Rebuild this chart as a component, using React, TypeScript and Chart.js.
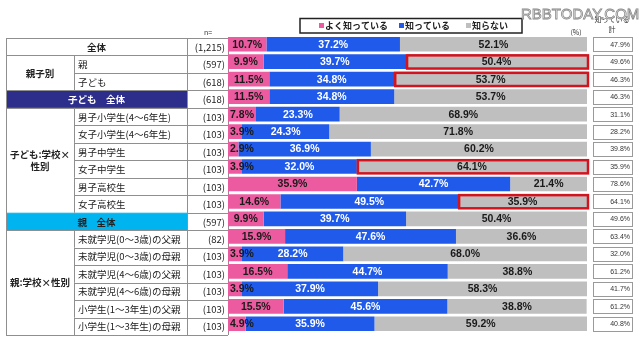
import React, { useEffect, useRef } from "react";
import { Chart, registerables } from "chart.js";

Chart.register(...registerables);

const rowLabels = [
  "全体",
  "親",
  "子ども",
  "子ども　全体",
  "男子小学生(4～6年生)",
  "女子小学生(4～6年生)",
  "男子中学生",
  "女子中学生",
  "男子高校生",
  "女子高校生",
  "親　全体",
  "未就学児(0～3歳)の父親",
  "未就学児(0～3歳)の母親",
  "未就学児(4～6歳)の父親",
  "未就学児(4～6歳)の母親",
  "小学生(1～3年生)の父親",
  "小学生(1～3年生)の母親",
];
const sampleSizes = [
  "(1,215)", "(597)", "(618)", "(618)", "(103)", "(103)", "(103)", "(103)", "(103)",
  "(103)", "(597)", "(82)", "(103)", "(103)", "(103)", "(103)", "(103)",
];
const wellKnown = [10.7, 9.9, 11.5, 11.5, 7.8, 3.9, 2.9, 3.9, 35.9, 14.6, 9.9, 15.9, 3.9, 16.5, 3.9, 15.5, 4.9];
const known = [37.2, 39.7, 34.8, 34.8, 23.3, 24.3, 36.9, 32.0, 42.7, 49.5, 39.7, 47.6, 28.2, 44.7, 37.9, 45.6, 35.9];
const unknown = [52.1, 50.4, 53.7, 53.7, 68.9, 71.8, 60.2, 64.1, 21.4, 35.9, 50.4, 36.6, 68.0, 38.8, 58.3, 38.8, 59.2];
const knownTotal = [47.9, 49.6, 46.3, 46.3, 31.1, 28.2, 39.8, 35.9, 78.6, 64.1, 49.6, 63.4, 32.0, 61.2, 41.7, 61.2, 40.8];
const seriesNames = ["よく知っている", "知っている", "知らない"];
const highlightedRows = [1, 2, 7, 9];
const wideRows = [0, 3, 10];
const groups = [
  { lines: ["親子別"], from: 1, to: 2 },
  { lines: ["子ども:学校×", "性別"], from: 4, to: 9 },
  { lines: ["親:学校×性別"], from: 11, to: 16 },
];
const totalHeader = ["知っている", "計"];

const PINK = "#EC5AA0";
const BLUE = "#1F5AEA";
const GRAY = "#BFBFBF";
const RED = "#D3141E";
const wideStyles: Record<number, { fill: string; color: string; bold: boolean }> = {
  0: { fill: "#ffffff", color: "#222", bold: true },
  3: { fill: "#2D2D8C", color: "#ffffff", bold: true },
  10: { fill: "#00B5EF", color: "#222", bold: true },
};
const CJK = '"Noto Sans CJK JP", sans-serif';

const decorPlugin = {
  id: "decor",
  beforeDatasetsDraw(chart: any) {
    const ctx = chart.ctx;
    const y = chart.scales.y;
    const pitch = y.getPixelForValue(1) - y.getPixelForValue(0);
    const off = 2.5;
    const top = (i: number) => y.getPixelForValue(i) - pitch / 2 + off;
    const X0 = 6, X1 = 74, X2 = 187, X3 = 228;
    const n = rowLabels.length;
    const T = top(0), B = top(n);
    ctx.save();
    ctx.fillStyle = "#fff";
    ctx.fillRect(X0, T, X3 - X0, B - T);
    wideRows.forEach((r) => {
      ctx.fillStyle = wideStyles[r].fill;
      ctx.fillRect(X0, top(r), X2 - X0, pitch);
    });
    ctx.strokeStyle = "#8f8f8f";
    ctx.lineWidth = 1;
    ctx.beginPath();
    const inGroup = (k: number) => groups.some((g) => k > g.from && k <= g.to);
    for (let k = 0; k <= n; k++) {
      const yy = Math.round(top(k)) + 0.5;
      ctx.moveTo(inGroup(k) ? X1 : X0, yy);
      ctx.lineTo(X3, yy);
    }
    const vline = (x: number, a: number, b: number) => {
      ctx.moveTo(x + 0.5, a);
      ctx.lineTo(x + 0.5, b);
    };
    vline(X0, T, B);
    vline(X2, T, B);
    vline(X3, T, B);
    for (let r = 0; r < n; r++) {
      if (!wideRows.includes(r)) vline(X1, top(r), top(r + 1));
    }
    ctx.stroke();

    ctx.textBaseline = "middle";
    for (let r = 0; r < n; r++) {
      const cy = top(r) + pitch / 2 + 0.5;
      if (wideRows.includes(r)) {
        const s = wideStyles[r];
        ctx.fillStyle = s.color;
        ctx.font = `${s.bold ? "bold " : ""}9.5px ${CJK}`;
        ctx.textAlign = "center";
        ctx.fillText(rowLabels[r], (X0 + X2) / 2, cy);
      } else {
        ctx.fillStyle = "#222";
        ctx.font = `9.5px ${CJK}`;
        ctx.textAlign = "left";
        ctx.fillText(rowLabels[r], X1 + 4, cy);
      }
      ctx.fillStyle = "#222";
      ctx.font = `9.5px ${CJK}`;
      ctx.textAlign = "right";
      ctx.fillText(sampleSizes[r], X3 - 3, cy);
    }
    groups.forEach((g) => {
      const cy = (top(g.from) + top(g.to + 1)) / 2;
      ctx.fillStyle = "#222";
      ctx.font = `bold 9.5px ${CJK}`;
      ctx.textAlign = "center";
      const lh = 12;
      g.lines.forEach((ln, i) => {
        ctx.fillText(ln, (X0 + X1) / 2, cy + (i - (g.lines.length - 1) / 2) * lh);
      });
    });
    ctx.font = `7px ${CJK}`;
    ctx.fillStyle = "#333";
    ctx.textAlign = "center";
    ctx.fillText("n=", 208, 32);
    ctx.fillText("(%)", 576, 32);

    // legend
    ctx.lineWidth = 1.5;
    ctx.strokeStyle = "#222";
    ctx.strokeRect(300, 18.5, 222, 14.5);
    const colors = [PINK, BLUE, GRAY];
    const lx = [319, 399, 466];
    ctx.font = `bold 9px ${CJK}`;
    ctx.textAlign = "left";
    seriesNames.forEach((s, i) => {
      ctx.fillStyle = colors[i];
      ctx.fillRect(lx[i], 23, 5, 5);
      ctx.fillStyle = "#222";
      ctx.fillText(s, lx[i] + 6, 26);
    });
    ctx.restore();
  },
  afterDatasetsDraw(chart: any) {
    const ctx = chart.ctx;
    ctx.save();
    const grayMeta = chart.getDatasetMeta(2);
    ctx.strokeStyle = RED;
    ctx.lineWidth = 2.5;
    highlightedRows.forEach((r) => {
      const el = grayMeta.data[r];
      const right = Math.min(el.x, chart.chartArea.right);
      ctx.strokeRect(el.base + 1, el.y - el.height / 2 + 1, right - el.base, el.height - 1.5);
    });
    ctx.font = 'bold 10.5px "Liberation Sans", Arial, sans-serif';
    ctx.textBaseline = "middle";
    ctx.textAlign = "center";
    const textColors = ["#1a1a1a", "#ffffff", "#1a1a1a"];
    [wellKnown, known, unknown].forEach((vals, d) => {
      const meta = chart.getDatasetMeta(d);
      meta.data.forEach((el: any, i: number) => {
        const txt = vals[i].toFixed(1) + "%";
        const w = ctx.measureText(txt).width;
        const right = Math.min(el.x, chart.chartArea.right);
        let cx = (el.base + right) / 2;
        if (d === 0) cx = Math.max(cx, el.base + w / 2 + 2);
        ctx.fillStyle = textColors[d];
        ctx.fillText(txt, cx, el.y + 0.5);
      });
    });

    // right column: known total
    ctx.font = `7px ${CJK}`;
    ctx.fillStyle = "#333";
    ctx.textAlign = "center";
    ctx.fillText(totalHeader[0], 612, 19);
    ctx.fillText(totalHeader[1], 612, 29);
    ctx.strokeStyle = "#9a9a9a";
    ctx.lineWidth = 1;
    const pm = chart.getDatasetMeta(0);
    pm.data.forEach((el: any, i: number) => {
      const h = 14;
      const yt = Math.round(el.y - h / 2) + 0.5;
      ctx.fillStyle = "#fff";
      ctx.fillRect(593.5, yt, 39, h);
      ctx.strokeRect(593.5, yt, 39, h);
      ctx.fillStyle = "#333";
      ctx.textAlign = "right";
      ctx.font = '7px "Liberation Sans", Arial, sans-serif';
      ctx.fillText(knownTotal[i].toFixed(1) + "%", 630, el.y + 0.5);
    });

    // watermark
    ctx.font = '15px "Liberation Sans", Arial, sans-serif';
    ctx.textAlign = "left";
    ctx.textBaseline = "alphabetic";
    ctx.fillStyle = "#f2f2f2";
    ctx.strokeStyle = "#8a8a8a";
    ctx.lineWidth = 0.8;
    ctx.fillText("RBBTODAY.COM", 521, 19);
    ctx.strokeText("RBBTODAY.COM", 521, 19);
    ctx.restore();
  },
};

export default function App() {
  const ref = useRef<HTMLCanvasElement>(null);
  useEffect(() => {
    document.body.style.margin = "0";
    const chart = new Chart(ref.current as HTMLCanvasElement, {
      type: "bar",
      data: {
        labels: rowLabels,
        datasets: [
          { label: seriesNames[0], data: wellKnown, backgroundColor: PINK },
          { label: seriesNames[1], data: known, backgroundColor: BLUE },
          { label: seriesNames[2], data: unknown, backgroundColor: GRAY },
        ],
      },
      options: {
        indexAxis: "y",
        animation: false,
        responsive: false,
        layout: { padding: { left: 228, right: 53, top: 35.5, bottom: 4.5 } },
        datasets: { bar: { categoryPercentage: 1, barPercentage: 0.84 } },
        scales: {
          x: { stacked: true, min: 0, max: 100, display: false },
          y: { stacked: true, display: false },
        },
        plugins: { legend: { display: false }, tooltip: { enabled: false } },
      } as any,
      plugins: [decorPlugin],
    });
    return () => chart.destroy();
  }, []);
  return (
    <div style={{ width: 640, height: 337, background: "#fff" }}>
      <canvas ref={ref} width={640} height={337} style={{ display: "block" }} />
    </div>
  );
}
